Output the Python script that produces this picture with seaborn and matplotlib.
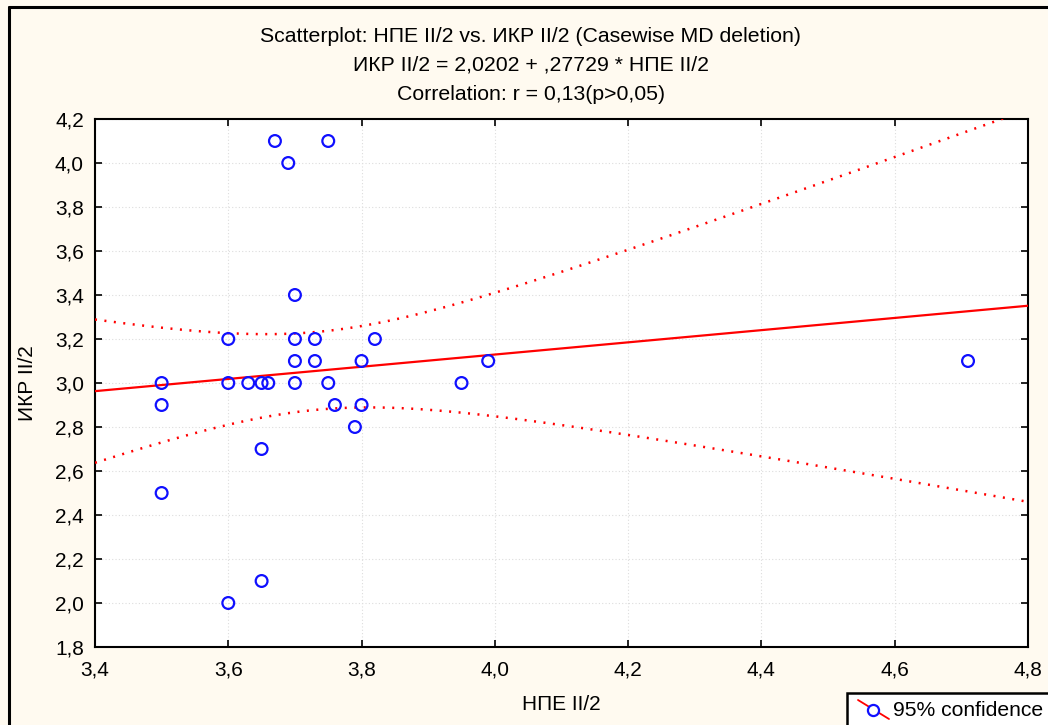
import numpy as np
import pandas as pd
import matplotlib
matplotlib.use("Agg")
import matplotlib.pyplot as plt
from matplotlib.lines import Line2D
from matplotlib.patches import Rectangle
from matplotlib.ticker import FuncFormatter
import seaborn as sns

# Observations (НПЕ II/2, ИКР II/2)
npe = [3.50, 3.50, 3.50, 3.60, 3.60, 3.60, 3.63, 3.65, 3.66, 3.65, 3.65,
       3.67, 3.69, 3.70, 3.70, 3.70, 3.70, 3.73, 3.73, 3.75, 3.75, 3.76,
       3.79, 3.80, 3.80, 3.82, 3.95, 3.99, 4.71]
ikr = [3.00, 2.90, 2.50, 3.20, 3.00, 2.00, 3.00, 3.00, 3.00, 2.70, 2.10,
       4.10, 4.00, 3.40, 3.20, 3.10, 3.00, 3.20, 3.10, 4.10, 3.00, 2.90,
       2.80, 3.10, 2.90, 3.20, 3.00, 3.10, 3.10]

# Fitted regression stated in the header
intercept = 2.0202
slope = 0.27729
t_crit = 2.0518  # t(0.975, df=27)

x_ticks = [3.4, 3.6, 3.8, 4.0, 4.2, 4.4, 4.6, 4.8]
y_ticks = [1.8, 2.0, 2.2, 2.4, 2.6, 2.8, 3.0, 3.2, 3.4, 3.6, 3.8, 4.0, 4.2]

title_lines = [
    "Scatterplot: НПЕ II/2 vs. ИКР II/2 (Casewise MD deletion)",
    "ИКР II/2 = 2,0202 + ,27729 * НПЕ II/2",
    "Correlation: r = 0,13(p>0,05)",
]

sns.set_theme(style="white")
plt.rcParams["font.family"] = ["Liberation Sans", "DejaVu Sans"]

bg = "#FFFAF0"
fig = plt.figure(figsize=(10.48, 7.25), dpi=100, facecolor=bg)
ax = fig.add_axes([95 / 1048, 78 / 725, 933 / 1048, 528 / 725])
ax.set_facecolor("white")

df = pd.DataFrame({"НПЕ II/2": npe, "ИКР II/2": ikr})

# Regression line and 95% confidence band for the mean
xs = np.linspace(x_ticks[0], x_ticks[-1], 200)
x_arr = np.asarray(npe)
y_arr = np.asarray(ikr)
n = len(x_arr)
resid = y_arr - (intercept + slope * x_arr)
s = np.sqrt(np.sum(resid ** 2) / (n - 2))
sxx = np.sum((x_arr - x_arr.mean()) ** 2)
half = t_crit * s * np.sqrt(1.0 / n + (xs - x_arr.mean()) ** 2 / sxx)
fit = intercept + slope * xs
band = pd.DataFrame({"x": xs, "fit": fit, "lo": fit - half, "hi": fit + half})

sns.lineplot(data=band, x="x", y="fit", ax=ax, color="#FF0000", lw=1.6, zorder=3)
sns.lineplot(data=band, x="x", y="hi", ax=ax, color="#FF0000", lw=1.8,
             linestyle=(0, (0.8, 3.0)), zorder=3)
sns.lineplot(data=band, x="x", y="lo", ax=ax, color="#FF0000", lw=1.8,
             linestyle=(0, (0.8, 3.0)), zorder=3)

sns.scatterplot(data=df, x="НПЕ II/2", y="ИКР II/2", ax=ax, s=72,
                facecolor="none", edgecolor="#1010FF", linewidth=1.6, zorder=4)

ax.set_xlim(x_ticks[0], x_ticks[-1])
ax.set_ylim(y_ticks[0], y_ticks[-1])
ax.set_xticks(x_ticks)
ax.set_yticks(y_ticks)
comma = FuncFormatter(lambda v, p: f"{v:.1f}".replace(".", ","))
ax.xaxis.set_major_formatter(comma)
ax.yaxis.set_major_formatter(comma)
ax.tick_params(axis="both", direction="in", length=5, width=1.2, color="black",
               labelsize=15, labelcolor="black", top=True, right=True,
               bottom=True, left=True)
ax.tick_params(axis="x", pad=10)
ax.tick_params(axis="y", pad=8)
ax.grid(True, color="#DDDDDD", linestyle=(0, (1, 2)), linewidth=0.8)
for sp in ax.spines.values():
    sp.set_visible(True)
    sp.set_color("black")
    sp.set_linewidth(1.5)

ax.set_xlabel("НПЕ II/2", fontsize=15, color="black", labelpad=11)
ax.set_ylabel("ИКР II/2", fontsize=15, color="black", labelpad=13)

# Header lines
for i, line in enumerate(title_lines):
    fig.text(531 / 1048, 1 - (36 + 29 * i) / 725, line, ha="center",
             va="center", fontsize=15.3, color="black")

# Outer frame
fig.add_artist(Line2D([9 / 1048, 9 / 1048], [0, 1 - 7 / 725],
                      color="black", lw=2.2, transform=fig.transFigure))
fig.add_artist(Line2D([9 / 1048, 1], [1 - 7 / 725, 1 - 7 / 725],
                      color="black", lw=2.2, transform=fig.transFigure))

# Legend box
fig.add_artist(Rectangle((847 / 1048, -0.01), 0.2, (725 - 693) / 725 + 0.01,
                         transform=fig.transFigure, facecolor="white",
                         edgecolor="black", lw=1.8))
fig.add_artist(Line2D([858 / 1048, 889 / 1048],
                      [1 - 700 / 725, 1 - 719 / 725],
                      color="#FF0000", lw=1.3, transform=fig.transFigure))
fig.add_artist(Line2D([873 / 1048], [1 - 710 / 725], marker="o",
                      markersize=8, markerfacecolor="white",
                      markeredgecolor="#1010FF", markeredgewidth=1.6,
                      transform=fig.transFigure))
fig.text(893 / 1048, 1 - 710 / 725, "95% confidence", ha="left", va="center",
         fontsize=15.2, color="black")

fig.savefig("out.png", dpi=100, facecolor=bg)
